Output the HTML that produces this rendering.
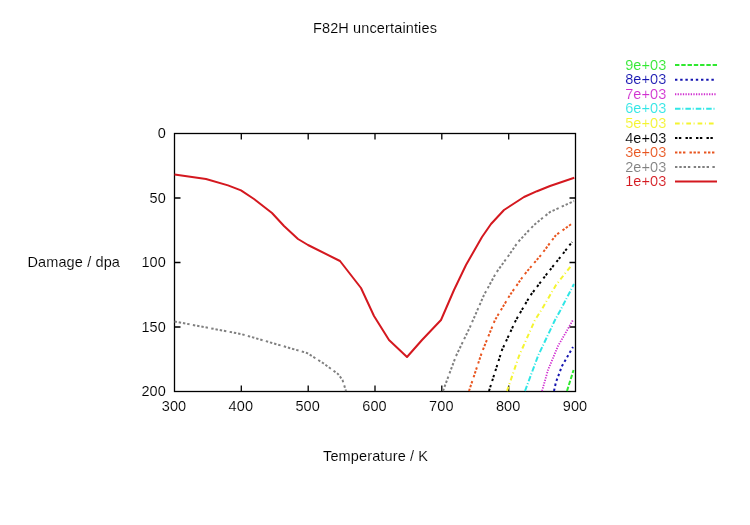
<!DOCTYPE html>
<html><head><meta charset="utf-8">
<style>
html,body{margin:0;padding:0;background:#fff;}
body{width:750px;height:525px;overflow:hidden;}
svg{display:block;will-change:transform;}
text{font-family:"Liberation Sans",sans-serif;font-size:14.5px;fill:#000;stroke:#fff;stroke-width:0.12px;paint-order:fill stroke;letter-spacing:0.13px;}
</style></head><body>
<svg width="750" height="525" viewBox="0 0 750 525">
<rect width="750" height="525" fill="#fff"/>
<!-- frame -->
<g stroke="#000" stroke-width="1.3" fill="none">
<rect x="174.5" y="133.5" width="401" height="258"/>
<!-- x ticks bottom/top -->
<path d="M241.3 391.5v-6M308.2 391.5v-6M375 391.5v-6M441.8 391.5v-6M508.7 391.5v-6"/>
<path d="M241.3 133.5v6M308.2 133.5v6M375 133.5v6M441.8 133.5v6M508.7 133.5v6"/>
<!-- y ticks -->
<path d="M174.5 198h6M174.5 262.5h6M174.5 327h6"/>
<path d="M575.5 198h-6M575.5 262.5h-6M575.5 327h-6"/>
</g>
<!-- curves -->
<g fill="none" stroke-width="2" stroke-linejoin="round">
<path id="c1" stroke="#d4181f" stroke-width="2" d="M174.5 174.4L206 179L228 185.4L241 190.4L254 199L272 213L284 226L298 239L308 245L340 261L361 288L374 316L389 340L407 357L422 340L441 320L454 290L466 265L482 237L491 224L504 210L524 197L537 191.2L550 186L574.3 177.8"/>
<path id="c2a" stroke="#808080" stroke-dasharray="2.4 1.9 2.4 1.9 2.4 1.9 2.4 3.4" d="M174.5 321.5L241 334L307 353L323 363L338 374L342.5 380L346 391"/>
<path id="c2b" stroke="#808080" stroke-dasharray="2.4 1.9 2.4 1.9 2.4 1.9 2.4 3.4" d="M443 391L456 356L470 327L484 295L496 273L509 255L518 242L534 225L550 212L574 201"/>
<path id="c3" stroke="#e8551f" stroke-dasharray="2.4 1.6 2.4 1.6 2.4 4.1" d="M469 391L482 352L495 320L510 295L524 275L541 255L556 235L572 223.6"/>
<path id="c4" stroke="#000" stroke-dasharray="2.4 1.5 2.4 4.2" d="M489 391L502 350L516 320L530 296L546 275L562 255L572 242"/>
<path id="c5" stroke="#f4f430" stroke-dasharray="4.7 2.6 1 3" d="M507 391L519 356L535 320L542 309L556 285L571 266"/>
<path id="c6" stroke="#30e6e6" stroke-dasharray="5.5 1.8 1 2.1" d="M525 391L538 356L555 320L560 311L574 284"/>
<path id="c7" stroke-width="1.8" stroke="#d030d0" stroke-dasharray="1.3 1.32" d="M542 391L548 370L558 346L573 320"/>
<path id="c8" stroke="#1414b0" stroke-dasharray="2.4 2.8" d="M554 391L556 382L562 366L573 347"/>
<path id="c9" stroke="#30e830" stroke-dasharray="4.4 1.87" d="M567 391L573.6 370"/>
</g>
<!-- legend lines -->
<g fill="none" stroke-width="2">
<path stroke="#30e830" stroke-dasharray="4.4 1.87" d="M675 65h42.5"/>
<path stroke="#1414b0" stroke-dasharray="2.4 2.8" d="M675 79.7h40"/>
<path stroke="#d030d0" stroke-dasharray="1.3 1.32" d="M675 94.2h41.5"/>
<path stroke="#30e6e6" stroke-dasharray="5.5 1.8 1 2.1" d="M675 108.8h41"/>
<path stroke="#f4f430" stroke-dasharray="4.7 2.6 1 3" d="M675 123.4h41"/>
<path stroke="#000" stroke-dasharray="2.4 1.5 2.4 4.2" d="M675 138h39"/>
<path stroke="#e8551f" stroke-dasharray="2.4 1.6 2.4 1.6 2.4 4.1" d="M675 152.5h41"/>
<path stroke="#808080" stroke-dasharray="2.4 1.9 2.4 1.9 2.4 1.9 2.4 3.4" d="M675 167h41"/>
<path stroke="#d4181f" stroke-width="2" d="M675 181.6h42"/>
</g>
<!-- legend text -->
<g text-anchor="end">
<text x="666.5" y="69.7" style="fill:#30e830">9e+03</text>
<text x="666.5" y="84.3" style="fill:#1414b0">8e+03</text>
<text x="666.5" y="98.9" style="fill:#d030d0">7e+03</text>
<text x="666.5" y="113.4" style="fill:#30e6e6">6e+03</text>
<text x="666.5" y="128" style="fill:#f4f430">5e+03</text>
<text x="666.5" y="142.6" style="fill:#000">4e+03</text>
<text x="666.5" y="157.2" style="fill:#e8551f">3e+03</text>
<text x="666.5" y="171.8" style="fill:#808080">2e+03</text>
<text x="666.5" y="186.3" style="fill:#d4181f">1e+03</text>
</g>
<!-- title and labels -->
<text x="375" y="32.6" text-anchor="middle">F82H uncertainties</text>
<text x="27.4" y="266.8">Damage / dpa</text>
<text x="375.6" y="461" text-anchor="middle">Temperature / K</text>
<!-- y tick labels -->
<g text-anchor="end">
<text x="166" y="138.2">0</text>
<text x="166" y="202.7">50</text>
<text x="166" y="267.2">100</text>
<text x="166" y="331.7">150</text>
<text x="166" y="396.2">200</text>
</g>
<!-- x tick labels -->
<g text-anchor="middle">
<text x="174.0" y="410.7">300</text>
<text x="240.8" y="410.7">400</text>
<text x="307.7" y="410.7">500</text>
<text x="374.5" y="410.7">600</text>
<text x="441.3" y="410.7">700</text>
<text x="508.2" y="410.7">800</text>
<text x="575.0" y="410.7">900</text>
</g>
</svg>
</body></html>
